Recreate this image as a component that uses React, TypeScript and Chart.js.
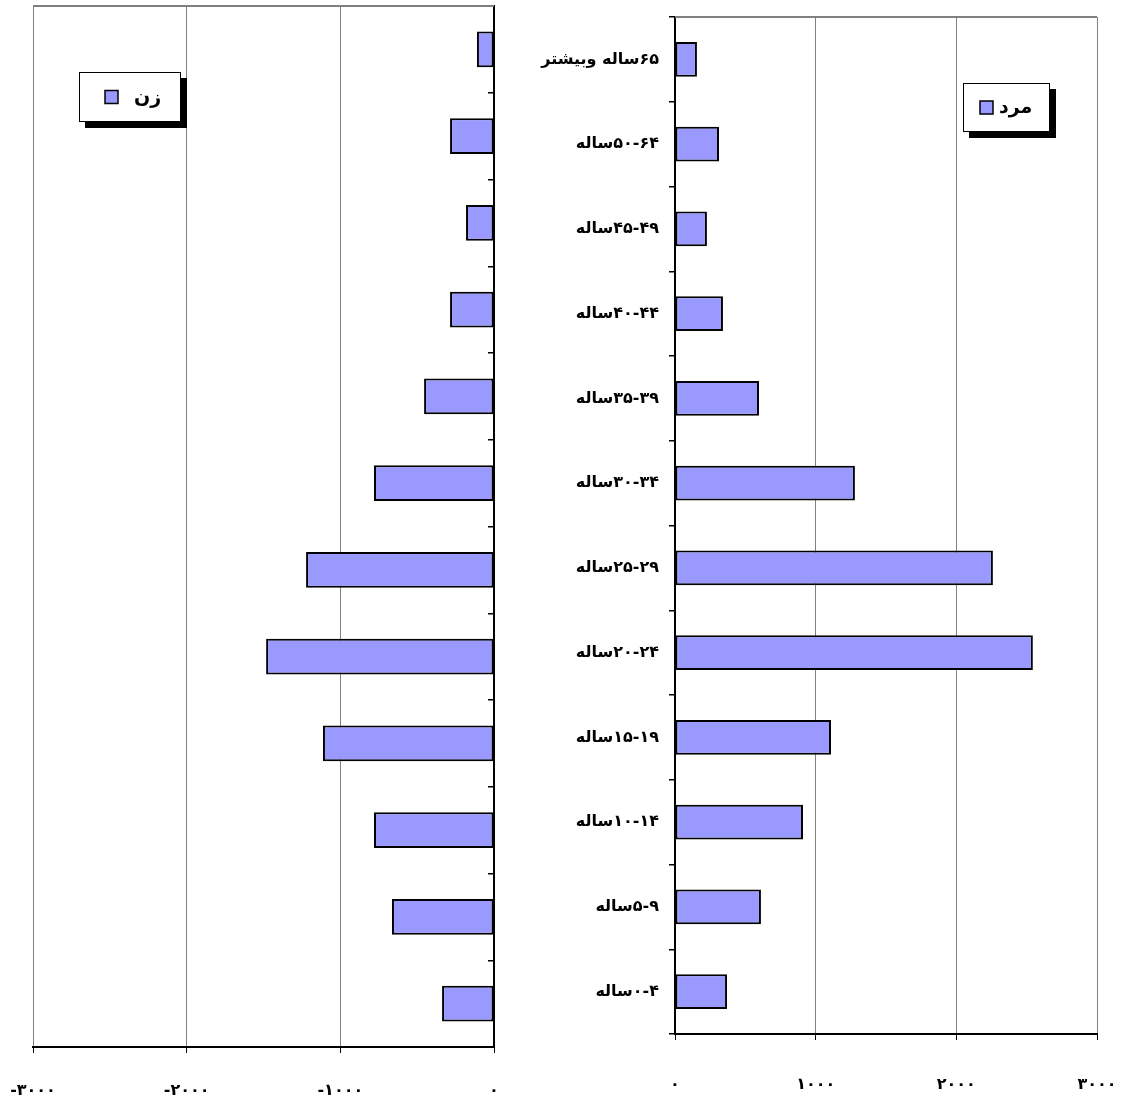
import { useEffect, useRef } from 'react';
import { Chart, registerables } from 'chart.js';

Chart.register(...registerables);

// ---- data (top to bottom) ----
const ageGroups = [
  '۶۵ساله وبیشتر',
  '۵۰-۶۴ساله',
  '۴۵-۴۹ساله',
  '۴۰-۴۴ساله',
  '۳۵-۳۹ساله',
  '۳۰-۳۴ساله',
  '۲۵-۲۹ساله',
  '۲۰-۲۴ساله',
  '۱۵-۱۹ساله',
  '۱۰-۱۴ساله',
  '۵-۹ساله',
  '۰-۴ساله',
];
const womenValues = [-111, -286, -182, -286, -455, -781, -1223, -1483, -1113, -781, -664, -338];
const menValues = [156, 313, 227, 341, 597, 1279, 2260, 2544, 1109, 910, 611, 370];
const womenLabel = 'زن';
const menLabel = 'مرد';
const womenTickLabels = ['-۳۰۰۰', '-۲۰۰۰', '-۱۰۰۰', '۰'];
const menTickLabels = ['۰', '۱۰۰۰', '۲۰۰۰', '۳۰۰۰'];

const FONT = '"DejaVu Sans", sans-serif';
const BAR_FILL = '#9999FF';
const GRID = '#808080';

const frameAndLegend = {
  id: 'frameAndLegend',
  beforeDatasetsDraw(chart: any) {
    const { ctx, chartArea } = chart;
    ctx.save();
    ctx.strokeStyle = GRID;
    ctx.lineWidth = 2;
    ctx.beginPath();
    ctx.moveTo(chartArea.left, chartArea.top);
    ctx.lineTo(chartArea.right, chartArea.top);
    ctx.stroke();
    ctx.restore();
  },
  afterDraw(chart: any, _args: any, opts: any) {
    if (!opts || opts.w == null) return;
    const { ctx } = chart;
    const ds = chart.data.datasets[0];
    const { x, y, w, h, sx, tx, shadow } = opts;
    ctx.save();
    ctx.fillStyle = '#000';
    ctx.fillRect(x + shadow, y + shadow, w, h);
    ctx.fillStyle = '#fff';
    ctx.fillRect(x, y, w, h);
    ctx.strokeStyle = '#000';
    ctx.lineWidth = 1;
    ctx.strokeRect(x + 0.5, y + 0.5, w - 1, h - 1);
    const cy = y + h / 2;
    const s = 13;
    ctx.fillStyle = ds.backgroundColor;
    ctx.fillRect(x + sx, cy - s / 2, s, s);
    ctx.strokeStyle = '#000';
    ctx.lineWidth = 1.5;
    ctx.strokeRect(x + sx, cy - s / 2, s, s);
    ctx.fillStyle = '#000';
    ctx.font = 'bold 19px ' + FONT;
    ctx.textAlign = 'left';
    ctx.textBaseline = 'middle';
    ctx.fillText(ds.label, x + tx, cy + 1);
    ctx.restore();
  },
};

function barDataset(label: string, values: number[]) {
  return {
    label,
    data: values,
    backgroundColor: BAR_FILL,
    borderColor: '#000',
    borderWidth: 2,
    borderSkipped: false as const,
    barPercentage: 0.41,
    categoryPercentage: 1,
  };
}

function fixX(height: number) {
  return (s: any) => {
    s.height = height;
    s.paddingLeft = 0;
    s.paddingRight = 0;
  };
}

export default function App() {
  const leftRef = useRef<HTMLCanvasElement>(null);
  const rightRef = useRef<HTMLCanvasElement>(null);

  useEffect(() => {
    const left = new Chart(leftRef.current!, {
      type: 'bar',
      data: { labels: ageGroups, datasets: [barDataset(womenLabel, womenValues)] },
      plugins: [frameAndLegend],
      options: {
        indexAxis: 'y',
        responsive: false,
        animation: false,
        layout: { padding: { left: 33, top: 6, right: 0, bottom: 0 } },
        plugins: {
          legend: { display: false },
          tooltip: { enabled: false },
          frameAndLegend: { x: 79, y: 72, w: 102, h: 50, sx: 26, tx: 55, shadow: 6 },
        } as any,
        scales: {
          x: {
            min: -3000,
            max: 0,
            afterFit: fixX(54),
            ticks: {
              stepSize: 1000,
              padding: 28,
              color: '#000',
              font: { family: FONT, size: 16, weight: 'bold' },
              callback: (_v: any, i: number) => womenTickLabels[i],
            },
            grid: { color: GRID, lineWidth: 1, tickColor: '#000', tickLength: 6 },
            border: { color: '#000', width: 2 },
          },
          y: {
            position: 'right',
            afterFit: (s: any) => { s.width = 26; s.paddingTop = 0; s.paddingBottom = 0; },
            ticks: { display: false },
            grid: { drawOnChartArea: false, tickLength: -6, tickColor: '#000', lineWidth: 1.5 },
            border: { color: '#000', width: 2 },
          },
        },
      },
    } as any);

    const right = new Chart(rightRef.current!, {
      type: 'bar',
      data: { labels: ageGroups, datasets: [barDataset(menLabel, menValues)] },
      plugins: [frameAndLegend],
      options: {
        indexAxis: 'y',
        responsive: false,
        animation: false,
        layout: { padding: { left: 0, top: 17, right: 28, bottom: 0 } },
        plugins: {
          legend: { display: false },
          tooltip: { enabled: false },
          frameAndLegend: { x: 963 - 520, y: 83, w: 87, h: 49, sx: 17, tx: 36, shadow: 6 },
        } as any,
        scales: {
          x: {
            min: 0,
            max: 3000,
            afterFit: fixX(67),
            ticks: {
              stepSize: 1000,
              padding: 35,
              color: '#000',
              font: { family: FONT, size: 16, weight: 'bold' },
              callback: (_v: any, i: number) => menTickLabels[i],
            },
            grid: { color: GRID, lineWidth: 1, tickColor: '#000', tickLength: 6 },
            border: { color: '#000', width: 2 },
          },
          y: {
            position: 'left',
            afterFit: (s: any) => { s.width = 155; s.paddingTop = 0; s.paddingBottom = 0; },
            ticks: {
              padding: 10,
              color: '#000',
              font: { family: FONT, size: 16, weight: 'bold' },
            },
            grid: { drawOnChartArea: false, tickLength: 6, tickColor: '#000', lineWidth: 1.5 },
            border: { color: '#000', width: 2 },
          },
        },
      },
    } as any);

    return () => {
      left.destroy();
      right.destroy();
    };
  }, []);

  return (
    <div style={{ position: 'absolute', left: 0, top: 0, width: 1125, height: 1101, background: '#fff' }}>
      <canvas
        ref={leftRef}
        width={520}
        height={1101}
        style={{ position: 'absolute', left: 0, top: 0, width: 520, height: 1101 }}
      />
      <canvas
        ref={rightRef}
        dir="rtl"
        width={605}
        height={1101}
        style={{ position: 'absolute', left: 520, top: 0, width: 605, height: 1101 }}
      />
    </div>
  );
}
